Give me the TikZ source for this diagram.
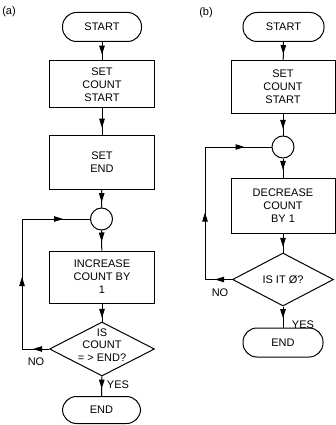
\documentclass[tikz,border=0pt]{standalone}
\usepackage{fontspec}
\setmainfont{Liberation Sans}
\usetikzlibrary{shapes.geometric,arrows.meta,decorations.markings}
\tikzset{
  lbl/.style={font=\fontsize{11}{13}\selectfont, align=center, inner sep=0pt},
  term/.style={draw, line width=1pt, rounded corners=14pt, minimum width=79pt, minimum height=29pt, lbl},
  procbox/.style={draw, line width=1pt, minimum width=105pt, lbl},
  joint/.style={draw, line width=1pt, circle, minimum size=22pt, inner sep=0pt},
  decide/.style={draw, line width=1pt, diamond, minimum width=105pt, minimum height=54pt, inner sep=0pt},
  wire/.style={line width=1pt},
  tip/.style={postaction={decorate,decoration={markings,mark=at position #1 with {\arrow{Triangle[length=9pt,width=5.5pt]}}}}}
}
\begin{document}
\begin{tikzpicture}[x=1pt,y=-1pt]
\useasboundingbox (0,0) rectangle (336,425);
% (a)
\node[lbl] (la) at (9,12) {(a)};
\node[term] (a1) at (102,27) {START};
\node[procbox, minimum height=47pt] (a2) at (102,84.5) {SET\\COUNT\\START};
\node[procbox, minimum height=54pt] (a3) at (102,162) {SET\\END};
\node[joint] (a4) at (101.5,219) {};
\node[procbox, minimum height=52pt] (a5) at (102,277) {INCREASE\\COUNT BY\\1};
\node[decide] (a6) at (102,349) {};
\node[lbl, font=\fontsize{11}{12.5}\selectfont] (a6t) at (102,345) {IS\\COUNT\\= > END?};
\node[term, minimum width=78pt, minimum height=27pt] (a7) at (101.5,410) {END};
\node[lbl] (ano) at (36,362) {NO};
\node[lbl] (ayes) at (118,385) {YES};
\coordinate (ab) at (22,349);
\coordinate (at) at (22,219);
\draw[wire, tip=0.68] (a1) -- (a2);
\draw[wire, tip=0.74] (a2) -- (a3);
\draw[wire, tip=0.7] (a3) -- (a4);
\draw[wire, tip=0.55] (a4) -- (a5);
\draw[wire, tip=0.8] (a5) -- (a6);
\draw[wire, tip=0.62] (a6) -- (a7);
\draw[wire, tip=16pt, tip=99pt, tip=198pt] (a6.west) -- (ab) -- (at) -- (a4.west);
% (b)
\node[lbl] (lb) at (206,13) {(b)};
\node[term, minimum width=81pt] (b1) at (283.5,27) {START};
\node[procbox, minimum width=104pt, minimum height=52pt] (b2) at (283,87) {SET\\COUNT\\START};
\node[joint] (b3) at (283,147) {};
\node[procbox, minimum width=104pt, minimum height=55pt] (b4) at (283,205.5) {DECREASE\\COUNT\\BY 1};
\node[decide, minimum width=101pt, minimum height=53pt] (b5) at (283,279.5) {};
\node[lbl] (b5t) at (283,280) {IS IT Ø?};
\node[term, minimum width=80pt] (b6) at (283,342.5) {END};
\node[lbl] (bno) at (220,293) {NO};
\node[lbl] (byes) at (303,325) {YES};
\coordinate (bb) at (205,279.5);
\coordinate (bt) at (205,147);
\draw[wire, tip=0.65] (b1) -- (b2);
\draw[wire, tip=0.7] (b2) -- (b3);
\draw[wire, tip=0.6] (b3) -- (b4);
\draw[wire, tip=0.7] (b4) -- (b5);
\draw[wire, tip=0.55] (b5) -- (b6);
\draw[wire, tip=17pt, tip=94pt, tip=199pt] (b5.west) -- (bb) -- (bt) -- (b3.west);
\end{tikzpicture}
\end{document}
